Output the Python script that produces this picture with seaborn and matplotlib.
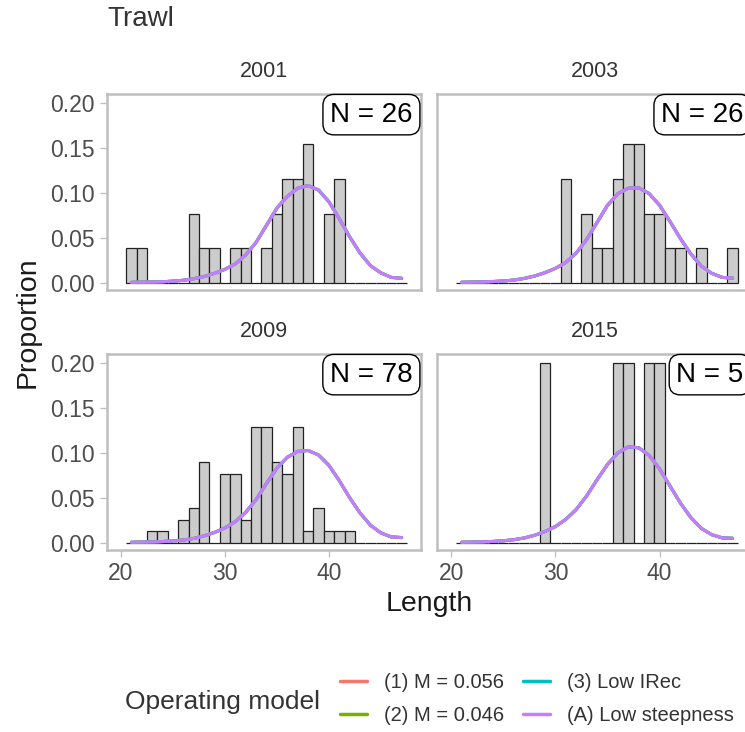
import numpy as np
import pandas as pd
import matplotlib
matplotlib.use("Agg")
import matplotlib.pyplot as plt
from matplotlib.lines import Line2D
from matplotlib.ticker import FormatStrFormatter
import seaborn as sns

# ---- data -------------------------------------------------------------
lengths = list(range(21, 48))
years = ["2001", "2003", "2009", "2015"]
sample_sizes = [26, 26, 78, 5]

# observed fish counts per length bin
counts_2001 = [1, 1, 0, 0, 0, 0, 2, 1, 1, 0, 1, 1, 0, 1, 2, 3, 3, 4, 0, 2, 3, 0, 0, 0, 0, 0, 0]
counts_2003 = [0, 0, 0, 0, 0, 0, 0, 0, 0, 0, 3, 0, 2, 1, 1, 3, 4, 4, 2, 2, 1, 1, 0, 1, 0, 0, 1]
counts_2009 = [0, 0, 1, 1, 0, 2, 3, 7, 0, 6, 6, 2, 10, 10, 7, 6, 10, 1, 3, 1, 1, 1, 0, 0, 0, 0, 0]
counts_2015 = [0, 0, 0, 0, 0, 0, 0, 0, 1, 0, 0, 0, 0, 0, 0, 1, 1, 0, 1, 1, 0, 0, 0, 0, 0, 0, 0]

# expected proportions at length
exp_2001 = [0.0005, 0.0007, 0.0009, 0.0012, 0.0018, 0.0028, 0.0045, 0.0070, 0.0105, 0.0150,
            0.0210, 0.0310, 0.0450, 0.0640, 0.0830, 0.0960, 0.1050, 0.1080, 0.1030, 0.0900,
            0.0710, 0.0510, 0.0330, 0.0190, 0.0110, 0.0060, 0.0050]
exp_2003 = [0.0006, 0.0008, 0.0010, 0.0014, 0.0020, 0.0030, 0.0048, 0.0075, 0.0112, 0.0160,
            0.0225, 0.0330, 0.0480, 0.0670, 0.0860, 0.0990, 0.1050, 0.1055, 0.0990, 0.0860,
            0.0680, 0.0490, 0.0320, 0.0185, 0.0105, 0.0060, 0.0052]
exp_2009 = [0.0006, 0.0008, 0.0010, 0.0014, 0.0020, 0.0031, 0.0049, 0.0077, 0.0115, 0.0165,
            0.0235, 0.0340, 0.0480, 0.0660, 0.0830, 0.0950, 0.1015, 0.1025, 0.0975, 0.0860,
            0.0690, 0.0500, 0.0330, 0.0195, 0.0110, 0.0065, 0.0058]
exp_2015 = [0.0006, 0.0008, 0.0011, 0.0015, 0.0022, 0.0034, 0.0053, 0.0083, 0.0125, 0.0180,
            0.0260, 0.0370, 0.0520, 0.0700, 0.0870, 0.1000, 0.1065, 0.1055, 0.0970, 0.0820,
            0.0630, 0.0440, 0.0280, 0.0160, 0.0090, 0.0055, 0.0050]

models = ["(1) M = 0.056", "(2) M = 0.046", "(3) Low IRec", "(A) Low steepness"]
model_colors = ["#F8766D", "#7CAE00", "#00BFC4", "#C77CFF"]

counts_by_year = [counts_2001, counts_2003, counts_2009, counts_2015]
expected_by_year = [exp_2001, exp_2003, exp_2009, exp_2015]

# ---- style ------------------------------------------------------------
sns.set_theme(style="white")
plt.rcParams["font.family"] = ["Liberation Sans", "DejaVu Sans"]

W, H = 745, 732
fig = plt.figure(figsize=(W / 100, H / 100), dpi=100)
fig.patch.set_facecolor("white")

FRAME = "#BEBEBE"
TICKTXT = "#4D4D4D"
TXT = "#333333"


def px_axes(left, top, right, bottom):
    return fig.add_axes([left / W, 1 - bottom / H, (right - left) / W, (bottom - top) / H])


panel_boxes = [(107, 94, 421, 290), (437, 94, 752, 290),
               (107, 354, 421, 550), (437, 354, 752, 550)]

palette = dict(zip(models, model_colors))

for i, (year, n, counts, expected, box) in enumerate(
        zip(years, sample_sizes, counts_by_year, expected_by_year, panel_boxes)):
    ax = px_axes(*box)
    obs = np.array(counts) / n

    sns.histplot(x=lengths, weights=obs, discrete=True, color="#CCCCCC",
                 edgecolor="#222222", linewidth=0.9, alpha=1, ax=ax)

    df = pd.DataFrame({
        "Length": lengths * len(models),
        "Proportion": list(expected) * len(models),
        "Operating model": [m for m in models for _ in lengths],
    })
    sns.lineplot(data=df, x="Length", y="Proportion", hue="Operating model",
                 hue_order=models, palette=palette, lw=2.2, legend=False, ax=ax)

    ax.set_xlim(18.65, 48.86)
    ax.set_ylim(-0.008, 0.2096)
    ax.set_xticks([20, 30, 40])
    ax.set_yticks([0.0, 0.05, 0.10, 0.15, 0.20])
    ax.yaxis.set_major_formatter(FormatStrFormatter("%.2f"))
    ax.set_xlabel("")
    ax.set_ylabel("")

    is_left = i % 2 == 0
    is_bottom = i >= 2
    ax.tick_params(axis="both", which="major", length=5, width=0.9, color=FRAME,
                   labelsize=16.5, labelcolor=TICKTXT, pad=4)
    ax.tick_params(bottom=is_bottom, labelbottom=is_bottom,
                   left=is_left, labelleft=is_left, top=False, right=False)

    for sp in ax.spines.values():
        sp.set_visible(True)
        sp.set_color(FRAME)
        sp.set_linewidth(1.8)

    # sample size label in the upper right corner
    ax.annotate(f"N = {n}", xy=(1, 1), xycoords="axes fraction",
                xytext=(-6, -5.5), textcoords="offset points",
                ha="right", va="top", fontsize=20, color="black",
                bbox=dict(boxstyle="round,pad=0.26,rounding_size=0.4",
                          fc="white", ec="black", lw=1.0),
                zorder=5, annotation_clip=False)

    # facet strip label
    ax.annotate(year, xy=(0.5, 1), xycoords="axes fraction",
                xytext=(0, 16), textcoords="offset points",
                ha="center", va="center", fontsize=15.5, color=TXT,
                annotation_clip=False)

# ---- titles ----------------------------------------------------------
fig.text(107 / W, 1 - 19 / H, "Trawl", ha="left", va="center", fontsize=20, color=TXT)
fig.text(28 / W, 1 - 322 / H, "Proportion", rotation=90, ha="center", va="center",
         fontsize=20.5, color="#1A1A1A")
fig.text(429.5 / W, 1 - 604 / H, "Length", ha="center", va="center",
         fontsize=20.5, color="#1A1A1A")

# ---- legend ----------------------------------------------------------
fig.text(125 / W, 1 - 702 / H, "Operating model", ha="left", va="center",
         fontsize=19, color=TXT)
handles = [Line2D([], [], color=c, lw=2.5) for c in model_colors]
fig.legend(handles, models, ncol=2, loc="center left",
           bbox_to_anchor=(340 / W, 1 - 699 / H), frameon=False, fontsize=14.5,
           handlelength=1.35, handletextpad=0.85, columnspacing=0.9,
           labelspacing=0.7, borderpad=0, borderaxespad=0, labelcolor=TXT)

fig.savefig("out.png", dpi=100, facecolor="white")
